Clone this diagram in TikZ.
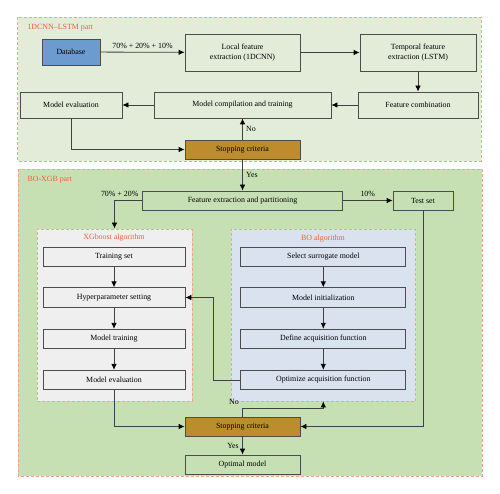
\documentclass[tikz,border=0pt]{standalone}
\usepackage{fontspec}
\setmainfont{Liberation Serif}
\usetikzlibrary{arrows.meta}
\definecolor{panelA}{HTML}{E3EBD9}
\definecolor{panelB}{HTML}{C6E0B4}
\definecolor{dashc}{HTML}{F5A488}
\definecolor{titlec}{HTML}{F0603A}
\definecolor{dbblue}{HTML}{6C9BD0}
\definecolor{gold}{HTML}{BD8C2C}
\definecolor{xgbgray}{HTML}{EFEFEF}
\definecolor{bolight}{HTML}{DAE2F0}
\begin{document}
\begin{tikzpicture}[x=1pt, y=-1pt, >={Latex[length=6pt,width=5.5pt,color=black]},
    font=\fontsize{7.9}{9.4}\selectfont,
    box/.style={draw=black!70, line width=0.8pt, align=center, inner sep=1pt},
    panel/.style={draw=dashc, line width=0.8pt, dash pattern=on 3pt off 2pt},
    title/.style={text=titlec},
    arr/.style={->, line width=0.8pt, draw=black!75, text=black}]
\useasboundingbox (0,0) rectangle (500,494);

% 1DCNN-LSTM part
\draw[panel, fill=panelA] (17.5,17.5) rectangle (481,161);
\node[title, anchor=west] at (24,28) {1DCNN--LSTM part};
\node[box, fill=dbblue, minimum width=58, minimum height=26] (db) at (71,52) {Database};
\node[box, minimum width=115, minimum height=37] (loc) at (242.5,52.5) {Local feature\\extraction (1DCNN)};
\node[box, minimum width=116, minimum height=37] (tmp) at (418,52.5) {Temporal feature\\extraction (LSTM)};
\node[box, minimum width=120, minimum height=26] (comb) at (418,105) {Feature combination};
\node[box, minimum width=177, minimum height=26] (comp) at (242.5,105) {Model compilation and training};
\node[box, minimum width=102, minimum height=26] (meval) at (71,105) {Model evaluation};
\node[box, fill=gold, minimum width=115, minimum height=19] (stopA) at (242.5,149.5) {Stopping criteria};

\draw[arr] (db) -- node[above]{70\% + 20\% + 10\%} (loc);
\draw[arr] (loc) -- (tmp);
\draw[arr] (tmp) -- (comb);
\draw[arr] (comb) -- (comp);
\draw[arr] (comp) -- (meval);
\draw[arr] (meval) |- (stopA);
\draw[arr] (stopA) -- node[right]{No} (comp);

% BO-XGB part
\draw[panel, fill=panelB] (18,169) rectangle (482,476);
\node[title, anchor=west] at (24,180) {BO-XGB part};
\node[box, fill=panelB, minimum width=200, minimum height=19] (part) at (242.5,200.5) {Feature extraction and partitioning};
\node[box, minimum width=60, minimum height=19] (test) at (423,200.5) {Test set};
\node[panel, fill=xgbgray, minimum width=155, minimum height=172] (xgb) at (114.5,315) {};
\node[panel, fill=bolight, minimum width=184.7, minimum height=172] (bo) at (323.3,315) {};
\node[title] at (114,237.5) {XGboost algorithm};
\node[title] at (323,238.5) {BO algorithm};

\foreach \n/\y/\t in {1/257/Training set, 2/297.5/Hyperparameter setting, 3/339/Model training, 4/380/Model evaluation}
{
    \node[box, fill=xgbgray, minimum width=142, minimum height=19.5] (x\n) at (114,\y) {\t};
}
\foreach \n/\y/\t in {1/257/Select surrogate model, 2/297.5/Model initialization, 3/339/Define acquisition function, 4/380/Optimize acquisition function}
{
    \node[box, fill=bolight, minimum width=165, minimum height=19.5] (b\n) at (323.3,\y) {\t};
}
\foreach \n/\m in {1/2, 2/3, 3/4}
{
    \draw[arr] (x\n) -- (x\m);
    \draw[arr] (b\n) -- (b\m);
}

\node[box, fill=gold, minimum width=115, minimum height=19] (stopB) at (242.5,426.5) {Stopping criteria};
\node[box, minimum width=115, minimum height=19] (optm) at (242.5,464.5) {Optimal model};

\draw[arr] (stopA) -- node[right]{Yes} (part);
\draw[arr] (part.west) -| node[pos=0, above left]{70\% + 20\%} (xgb.north);
\draw[arr] (part) -- node[above]{10\%} (test);
\draw[arr] (test) |- (stopB);
\draw[arr] (b4.west) -- ++(-27,0) |- (x2.east);
\draw[arr] (x4) |- (stopB);
\draw[arr] (stopB.north) -- ++(0,-8) node[above left]{No} -| (bo.south);
\draw[arr] (stopB) -- node[left]{Yes} (optm);

\end{tikzpicture}
\end{document}
